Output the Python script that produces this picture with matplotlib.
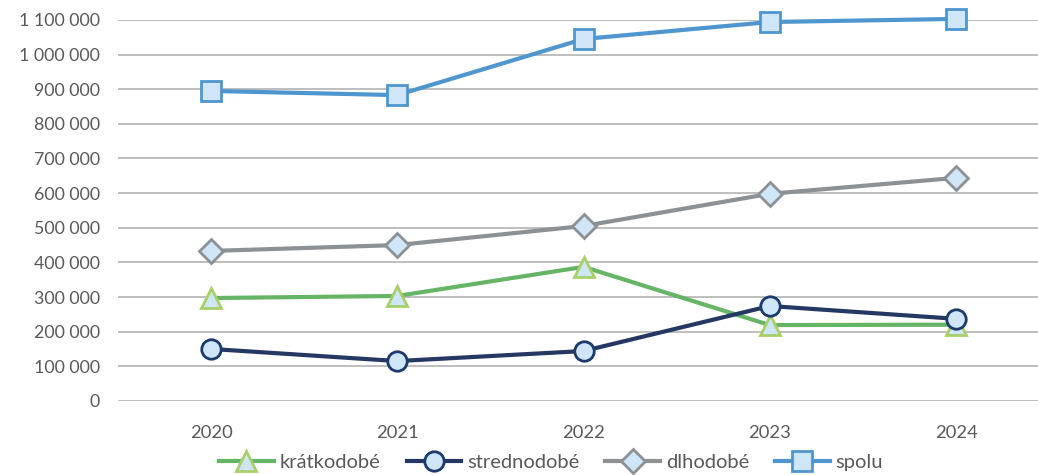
import matplotlib
matplotlib.use("Agg")
import matplotlib.pyplot as plt
from matplotlib.ticker import FuncFormatter

plt.rcParams["font.family"] = ["Lato", "DejaVu Sans"]

years = ["2020", "2021", "2022", "2023", "2024"]
kratkodobe = [297000, 303000, 387000, 219000, 220000]
strednodobe = [150000, 115000, 144000, 274000, 237000]
dlhodobe = [433000, 450000, 505000, 598000, 644000]
spolu = [895000, 883000, 1045000, 1094000, 1103000]

fill = "#cfe5f8"
textc = "#595959"

fig = plt.figure(figsize=(10.38, 4.75), dpi=100)
ax = fig.add_axes([0.1137, 0.156, 0.897, 0.802])

x = range(len(years))
ax.plot(x, kratkodobe, color="#66b566", lw=3, marker="^", ms=15,
        mfc=fill, mec="#a8d068", mew=2, label="krátkodobé", zorder=3, clip_on=False)
ax.plot(x, strednodobe, color="#253863", lw=3, marker="o", ms=14,
        mfc=fill, mec="#1c3a6b", mew=2, label="strednodobé", zorder=3, clip_on=False)
ax.plot(x, dlhodobe, color="#8e9194", lw=3, marker="D", ms=12,
        mfc=fill, mec="#8e9194", mew=2, label="dlhodobé", zorder=3, clip_on=False)
ax.plot(x, spolu, color="#4f96cf", lw=3, marker="s", ms=15,
        mfc=fill, mec="#4f96cf", mew=2, label="spolu", zorder=3, clip_on=False)

ax.set_xlim(-0.5, 4.5)
ax.set_ylim(0, 1100000)
ax.set_yticks(range(0, 1100001, 100000))
ax.yaxis.set_major_formatter(FuncFormatter(lambda v, p: f"{int(v):,}".replace(",", " ")))
ax.set_xticks(list(x))
ax.set_xticklabels(years)
ax.grid(axis="y", color="#b3b3b3", lw=1.2)
ax.set_axisbelow(True)
for s in ax.spines.values():
    s.set_visible(False)
ax.tick_params(axis="y", length=0, labelsize=12.8, colors=textc, pad=13)
ax.tick_params(axis="x", length=0, labelsize=13.2, colors=textc, pad=17)

leg = fig.legend(loc="center", bbox_to_anchor=(0.531, 0.027), ncol=4,
                 frameon=False, fontsize=14.5, handlelength=2.7,
                 columnspacing=1.3, handletextpad=0.3)
for t in leg.get_texts():
    t.set_color(textc)

fig.savefig("out.png", dpi=100)
